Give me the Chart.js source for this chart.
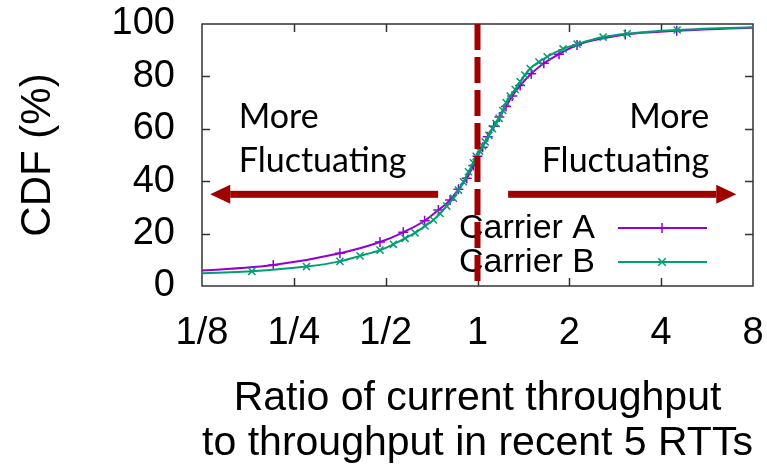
<!DOCTYPE html>
<html>
<head>
<meta charset="utf-8">
<script src="https://cdn.jsdelivr.net/npm/chart.js@4.4.1/dist/chart.umd.min.js"></script>
<style>
  html, body { margin: 0; padding: 0; background: #fff; }
  canvas { display: block; }
</style>
</head>
<body>
<canvas id="cdfChart" width="767" height="467"></canvas>
<script>
// throughput ratio ticks (log2 spaced)
const xTicks = [0.125, 0.25, 0.5, 1, 2, 4, 8];
const xTickLabels = ['1/8', '1/4', '1/2', '1', '2', '4', '8'];
const yTicks = [0, 20, 40, 60, 80, 100];

const seriesNames = ['Carrier A', 'Carrier B'];

// Carrier A: ratio vs CDF (%)
const carrierARatio = [0.10, 0.214, 0.354, 0.479, 0.571, 0.671, 0.744, 0.813, 0.866, 0.922,
  0.969, 1.00, 1.04, 1.08, 1.13, 1.18, 1.24, 1.30, 1.38, 1.50, 1.65, 1.85, 2.12, 3.05, 4.5, 9.0];
const carrierACdf = [5.2, 8.0, 12.5, 16.8, 20.5, 24.9, 29.0, 32.8, 36.9, 41.1,
  46.0, 49.5, 53.0, 57.0, 61.0, 64.5, 68.5, 72.5, 76.5, 81.0, 85.0, 88.5, 92.0, 96.0, 97.4, 98.8];

// Carrier B: ratio vs CDF (%)
const carrierBRatio = [0.10, 0.182, 0.275, 0.354, 0.412, 0.479, 0.530, 0.579, 0.624, 0.673,
  0.717, 0.754, 0.793, 0.834, 0.866, 0.899, 0.934, 0.969, 0.99, 1.015, 1.04, 1.06, 1.09, 1.12,
  1.15, 1.177, 1.21, 1.241, 1.28, 1.329, 1.38, 1.43, 1.488, 1.59, 1.691, 1.908, 2.121, 2.581,
  3.095, 4.513, 9.0];
const carrierBCdf = [4.6, 5.6, 7.4, 9.4, 11.5, 13.7, 15.9, 18.2, 20.3, 22.9,
  25.2, 27.7, 30.5, 33.5, 36.6, 39.8, 43.6, 47.0, 49.5, 51.5, 53.5, 55.0, 57.5, 60.0,
  62.0, 64.0, 67.0, 70.0, 72.5, 75.0, 78.0, 80.5, 83.0, 85.5, 87.5, 90.5, 92.3, 95.0,
  96.3, 97.7, 98.9];

// ratio = 1 split line
const splitRatio = 1;
const splitCdf = [100, 0];

const sideLabel = ['More', 'Fluctuating'];

const HELV = "'Liberation Sans', Arial, Helvetica, sans-serif";
const NOTE_FONT = "Lato, 'Open Sans', sans-serif";
const RED = '#a00000';
const PURPLE = '#9400d3';
const GREEN = '#009e73';

const toPoints = (xs, ys) => xs.map((v, i) => ({ x: v, y: ys[i] }));

function drawMarker(ctx, style, cx, cy, r) {
  ctx.beginPath();
  if (style === 'cross') {
    ctx.moveTo(cx - r, cy); ctx.lineTo(cx + r, cy);
    ctx.moveTo(cx, cy - r); ctx.lineTo(cx, cy + r);
  } else {
    const d = r * 0.75;
    ctx.moveTo(cx - d, cy - d); ctx.lineTo(cx + d, cy + d);
    ctx.moveTo(cx - d, cy + d); ctx.lineTo(cx + d, cy - d);
  }
  ctx.stroke();
}

// frame with inward ticks on all four sides, plus the key
const framePlugin = {
  id: 'frame',
  beforeDatasetsDraw(chart) {
    const { ctx, chartArea: a, scales: { x, y } } = chart;
    ctx.save();
    ctx.strokeStyle = '#333';
    ctx.lineWidth = 1.5;
    ctx.strokeRect(a.left, a.top, a.width, a.height);
    ctx.beginPath();
    xTicks.slice(1, -1).forEach(v => {
      const px = Math.round(x.getPixelForValue(v)) + 0.5;
      ctx.moveTo(px, a.bottom); ctx.lineTo(px, a.bottom - 8);
      ctx.moveTo(px, a.top); ctx.lineTo(px, a.top + 8);
    });
    yTicks.slice(1, -1).forEach(v => {
      const py = Math.round(y.getPixelForValue(v)) + 0.5;
      ctx.moveTo(a.left, py); ctx.lineTo(a.left + 8, py);
      ctx.moveTo(a.right, py); ctx.lineTo(a.right - 8, py);
    });
    ctx.stroke();

    // key, lower right
    const keyRows = [
      { name: seriesNames[0], color: PURPLE, style: 'cross', y: a.bottom - 58 },
      { name: seriesNames[1], color: GREEN, style: 'crossRot', y: a.bottom - 24 }
    ];
    ctx.font = '34px ' + HELV;
    ctx.textAlign = 'right';
    ctx.textBaseline = 'middle';
    keyRows.forEach(row => {
      ctx.fillStyle = '#000';
      ctx.fillText(row.name, a.right - 158, row.y + 1);
      ctx.strokeStyle = row.color;
      ctx.lineWidth = 2;
      ctx.beginPath();
      ctx.moveTo(a.right - 135, row.y);
      ctx.lineTo(a.right - 46, row.y);
      ctx.stroke();
      ctx.lineWidth = 1.5;
      drawMarker(ctx, row.style, a.right - 91, row.y, 5);
    });
    ctx.restore();
  },
  afterDraw(chart) {
    const { ctx, scales: { x, y } } = chart;
    ctx.save();
    const arrow = (fromV, toV, cdf) => {
      const x0 = x.getPixelForValue(fromV);
      const x1 = x.getPixelForValue(toV);
      const py = y.getPixelForValue(cdf);
      const dir = Math.sign(x1 - x0);
      const head = 20;
      ctx.fillStyle = RED;
      ctx.fillRect(Math.min(x0, x1 - dir * head), py - 3.5, Math.abs(x1 - dir * head - x0), 7);
      ctx.beginPath();
      ctx.moveTo(x1, py);
      ctx.lineTo(x1 - dir * head, py - 9.5);
      ctx.lineTo(x1 - dir * head, py + 9.5);
      ctx.closePath();
      ctx.fill();
    };
    arrow(0.743, 0.133, 35);
    arrow(1.26, 7.05, 35);

    ctx.fillStyle = '#000';
    ctx.font = '34px ' + NOTE_FONT;
    ctx.textBaseline = 'alphabetic';
    ctx.textAlign = 'left';
    ctx.fillText(sideLabel[0], x.getPixelForValue(0.165), y.getPixelForValue(60.3));
    ctx.fillText(sideLabel[1], x.getPixelForValue(0.165), y.getPixelForValue(43.5));
    ctx.textAlign = 'right';
    ctx.fillText(sideLabel[0], x.getPixelForValue(5.75), y.getPixelForValue(60.3));
    ctx.fillText(sideLabel[1], x.getPixelForValue(5.75), y.getPixelForValue(43.5));
    ctx.restore();
  }
};

// keep label overhang from pushing the plot box around
const noOverhang = s => { s.paddingTop = 0; s.paddingBottom = 0; s.paddingLeft = 0; s.paddingRight = 0; };

new Chart(document.getElementById('cdfChart').getContext('2d'), {
  type: 'line',
  data: {
    datasets: [
      {
        label: 'split',
        data: splitCdf.map(v => ({ x: splitRatio, y: v })),
        borderColor: RED,
        borderWidth: 6,
        borderDash: [26, 7],
        borderCapStyle: 'butt',
        pointRadius: 0,
        order: 0
      },
      {
        label: seriesNames[1],
        data: toPoints(carrierBRatio, carrierBCdf),
        borderColor: GREEN,
        backgroundColor: GREEN,
        borderWidth: 2,
        pointStyle: 'crossRot',
        pointRadius: 5,
        pointBorderWidth: 1.5,
        cubicInterpolationMode: 'monotone',
        order: 1
      },
      {
        label: seriesNames[0],
        data: toPoints(carrierARatio, carrierACdf),
        borderColor: PURPLE,
        backgroundColor: PURPLE,
        borderWidth: 2,
        pointStyle: 'cross',
        pointRadius: 5,
        pointBorderWidth: 1.5,
        cubicInterpolationMode: 'monotone',
        order: 2
      }
    ]
  },
  options: {
    responsive: false,
    animation: false,
    devicePixelRatio: 1,
    layout: { padding: { left: 0, right: 14, top: 24, bottom: 1 } },
    plugins: { legend: { display: false }, tooltip: { enabled: false } },
    scales: {
      x: {
        type: 'logarithmic',
        position: 'bottom',
        min: 0.125,
        max: 8,
        afterBuildTicks: s => { s.ticks = xTicks.map(v => ({ value: v })); },
        afterFit: s => { s.height = 180; noOverhang(s); },
        grid: { display: false, drawTicks: false },
        border: { display: false },
        ticks: {
          autoSkip: false,
          maxRotation: 0,
          padding: 25,
          color: '#000',
          font: { family: HELV, size: 38 },
          callback: (v, i) => xTickLabels[i]
        },
        title: {
          display: true,
          text: ['Ratio of current throughput', 'to throughput in recent 5 RTTs'],
          color: '#000',
          font: { family: HELV, size: 41, lineHeight: 1.1 },
          padding: { top: 0, bottom: 0 }
        }
      },
      y: {
        min: 0,
        max: 100,
        afterBuildTicks: s => { s.ticks = yTicks.map(v => ({ value: v })); },
        afterFit: s => { s.width = 202; noOverhang(s); },
        grid: { display: false, drawTicks: false },
        border: { display: false },
        ticks: {
          autoSkip: false,
          padding: 27,
          color: '#000',
          font: { family: HELV, size: 38 }
        },
        title: {
          display: true,
          text: 'CDF (%)',
          color: '#000',
          font: { family: HELV, size: 42, lineHeight: 1.2 },
          padding: { top: 13, bottom: 0 }
        }
      }
    }
  },
  plugins: [framePlugin]
});
</script>
</body>
</html>
